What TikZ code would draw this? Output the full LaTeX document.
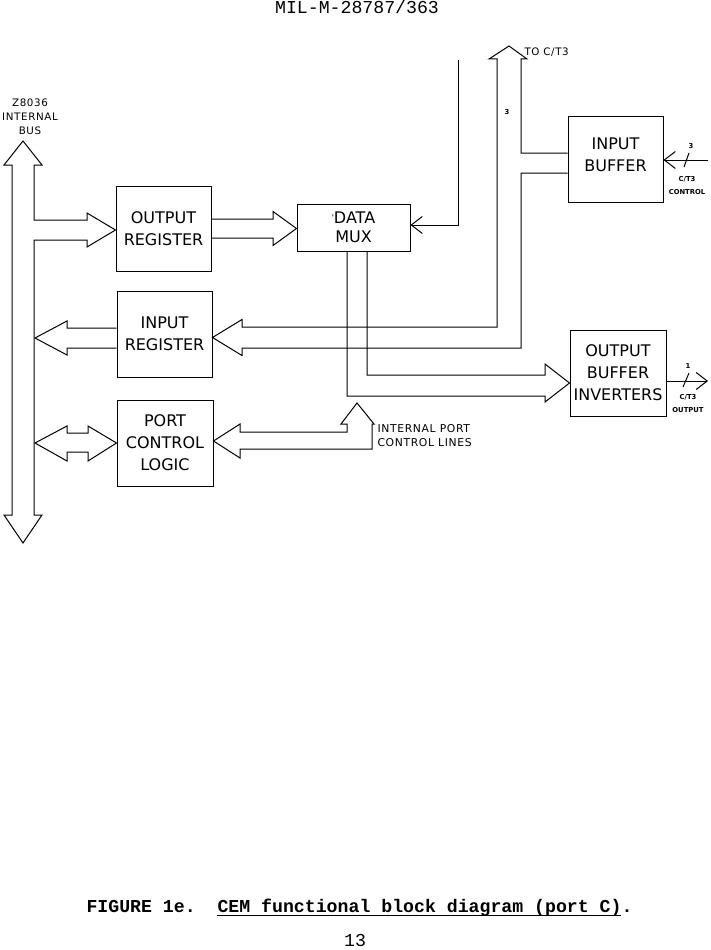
\documentclass[tikz,border=0pt]{standalone}
\usepackage{fontspec}
\usetikzlibrary{arrows.meta,calc}
\newfontfamily\plotfont{DejaVu Sans}
\newfontfamily\plotsp[LetterSpace=6]{DejaVu Sans}
\newfontfamily\typewfont{Liberation Mono}
\begin{document}
\begin{tikzpicture}[x=1pt,y=-1pt,line width=1pt,line join=miter,
  blk/.style={draw,inner sep=0pt,align=center,
    font=\plotfont\fontsize{16}{22}\selectfont},
  lbl/.style={inner sep=0pt,align=center,font=\plotsp\fontsize{10.3}{14}\selectfont},
  tiny/.style={inner sep=0pt,align=center,font=\plotfont\bfseries\fontsize{6.8}{13}\selectfont},
  thinarr/.style={-{Straight Barb[length=11pt,width=17pt,line width=1pt]}},
  wide/.style={draw,line width=1pt}]
\useasboundingbox (0,0) rectangle (710,950);
\fill[white] (0,0) rectangle (710,950);

% header and caption
\node[inner sep=0pt,anchor=base,font=\typewfont\fontsize{18.2}{20}\selectfont] (hdr) at (357,14) {MIL-M-28787/363};
\node[inner sep=0pt,anchor=base west,font=\typewfont\bfseries\fontsize{18.2}{20}\selectfont] (cap) at (86,912) {FIGURE 1e.\ \ CEM functional block diagram (port C).};
\draw[line width=1.2pt] ($(cap.base west)+(131,3.5)$) -- ($(cap.base west)+(535,3.5)$);
\node[inner sep=0pt,anchor=base,font=\typewfont\fontsize{18.2}{20}\selectfont] (pg) at (355,946) {13};

% blocks
\node[blk,minimum width=95pt,minimum height=85pt] (outreg) at (163.5,228.5) {OUTPUT\\REGISTER};
\node[blk,minimum width=113pt,minimum height=47pt,font=\plotfont\fontsize{16}{18.5}\selectfont] (mux) at (353.5,227.5) {\raisebox{.45ex}{\fontsize{8}{8}\selectfont '}DATA\\MUX};
\node[blk,minimum width=95pt,minimum height=86pt] (inreg) at (164.5,334) {INPUT\\REGISTER};
\node[blk,minimum width=96pt,minimum height=86pt] (pcl) at (165,443) {PORT\\CONTROL\\LOGIC};
\node[blk,minimum width=95pt,minimum height=86pt,text depth=8pt] (inbuf) at (615.5,159) {INPUT\\BUFFER};
\node[blk,minimum width=96pt,minimum height=86pt] (outbuf) at (618,373) {OUTPUT\\BUFFER\\INVERTERS};

% internal bus with branch to output register
\draw[wide] (34,220) -- (34,165) -- (42,165) -- (23,141) -- (4,165) -- (12,165)
  -- (12,515) -- (4,515) -- (23,543) -- (42,515) -- (34,515) -- (34,240)
  -- (87,240) -- (87,247) -- (outreg.west |- 0,230) -- (87,213) -- (87,220) -- cycle;

% output register -> data mux
\draw[wide] (outreg.east |- 0,219) -- (273,219) -- (273,211.5) -- (mux.west |- 0,228.5)
  -- (273,245.5) -- (273,238) -- (outreg.east |- 0,238);

% input register -> bus
\draw[wide] (inreg.west |- 0,328) -- (67,328) -- (67,321) -- (35,338) -- (67,355) -- (67,348) -- (inreg.west |- 0,348);

% bus <-> port control logic
\draw[wide] (35,443) -- (67,426) -- (67,433) -- (88,433) -- (88,426) -- (pcl.west |- 0,443)
  -- (88,461) -- (88,452) -- (67,452) -- (67,461) -- cycle;

% to C/T3 bus, input buffer, into input register
\draw[wide] (inbuf.west |- 0,153) -- (521,153) -- (521,59) -- (527,59) -- (509,46) -- (489,59) -- (497,59)
  -- (497,327) -- (242,327) -- (242,319.5) -- (inreg.east |- 0,337.5) -- (242,355.5) -- (242,348)
  -- (521,348) -- (521,173) -- (inbuf.west |- 0,173);

% data mux -> output buffer inverters
\draw[wide] (mux.south -| 367,0) -- (367,375) -- (545,375) -- (545,364) -- (outbuf.west |- 0,383)
  -- (545,402) -- (545,396) -- (347,396) -- (mux.south -| 347,0);

% internal port control lines -> port control logic
\draw[wide] (pcl.east |- 0,441) -- (240,424) -- (240,432) -- (347,432) -- (347,424) -- (341,424)
  -- (357,403) -- (374,424) -- (372,424) -- (372,449) -- (240,449) -- (240,458) -- cycle;

% thin connectors
\coordinate (muxfeed) at (458,60);
\draw[thinarr] (muxfeed) |- (mux.east |- 0,225);
\coordinate (ctlin) at (708,160);
\draw[thinarr] (ctlin) -- (inbuf.east |- ctlin);
\draw (684,167) -- (689,153);
\coordinate (ctout) at (708,381);
\draw[thinarr] (outbuf.east |- ctout) -- (ctout);
\draw (683,387) -- (689,373);

% labels
\node[lbl] (busl) at (30,117) {Z8036\\INTERNAL\\BUS};
\node[lbl,anchor=west,font=\plotsp\fontsize{10.3}{12}\selectfont] (toct) at (524,52) {TO C/T3};
\node[tiny] (n3a) at (507,112) {3};
\node[lbl,anchor=west,align=left,font=\plotsp\fontsize{10.8}{13.5}\selectfont] (ipcl) at (377,435.5) {INTERNAL PORT\\CONTROL LINES};
\node[tiny] (n3b) at (691,146) {3};
\node[tiny] (ctlctl) at (687,185.5) {C/T3\\CONTROL};
\node[tiny] (n1) at (688,366) {1};
\node[tiny] (ctlout) at (688,403.5) {C/T3\\OUTPUT};
\end{tikzpicture}
\end{document}
